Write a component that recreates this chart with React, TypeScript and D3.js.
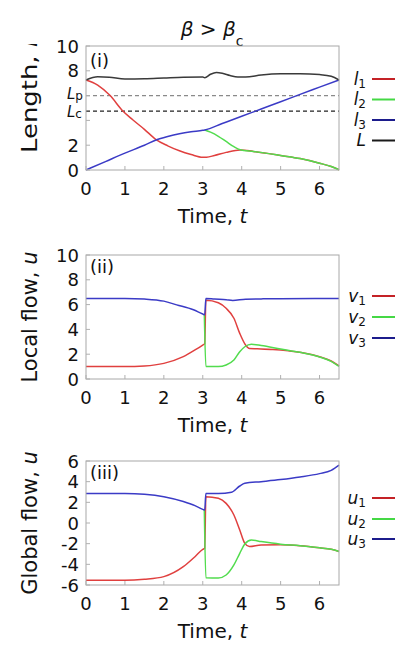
import React from "react";
import * as d3 from "d3";

// ---------- Panel (i): lengths ----------
const T_BIG_L = [0, 0.3, 0.6, 1.0, 1.5, 2.0, 2.5, 3.0, 3.05, 3.2, 3.35, 3.5, 3.7, 3.9, 4.1, 4.5, 5.0, 5.5, 6.0, 6.3, 6.5];
const BIG_L = [7.26, 7.52, 7.48, 7.34, 7.36, 7.42, 7.48, 7.5, 7.44, 7.72, 7.86, 7.8, 7.62, 7.5, 7.5, 7.66, 7.76, 7.77, 7.7, 7.56, 7.26];

const T_L1 = [0, 0.3, 0.62, 0.94, 1.2, 1.5, 1.8, 2.1, 2.4, 2.7, 3.0, 3.1, 3.3, 3.6, 3.96, 4.3, 4.7, 5.0, 5.5, 6.0, 6.3, 6.5];
const L1 = [7.26, 6.85, 6.0, 4.78, 4.05, 3.28, 2.45, 1.95, 1.55, 1.25, 1.03, 1.03, 1.17, 1.42, 1.62, 1.5, 1.32, 1.17, 0.92, 0.55, 0.28, 0.02];

const T_L2 = [3.05, 3.2, 3.4, 3.6, 3.8, 3.96, 4.3, 4.7, 5.0, 5.5, 6.0, 6.3, 6.5];
const L2 = [3.23, 3.05, 2.72, 2.3, 1.88, 1.64, 1.5, 1.32, 1.17, 0.92, 0.55, 0.28, 0.02];

const T_L3 = [0, 0.5, 1.0, 1.5, 1.8, 2.1, 2.4, 2.7, 3.0, 3.05, 3.5, 4.0, 4.5, 5.0, 5.5, 6.0, 6.5];
const L3 = [0, 0.68, 1.36, 2.0, 2.42, 2.7, 2.92, 3.08, 3.2, 3.23, 3.75, 4.33, 4.92, 5.5, 6.1, 6.68, 7.26];

const L_P = 6.0;
const L_C = 4.75;

// ---------- Panel (ii): local flow ----------
const T_V1 = [0, 1.0, 1.5, 2.0, 2.5, 2.8, 3.0, 3.05, 3.08, 3.4, 3.6, 3.8, 3.95, 4.1, 4.2, 4.4, 4.8, 5.2, 5.6, 6.0, 6.3, 6.5];
const V1 = [1.0, 1.0, 1.05, 1.26, 1.8, 2.34, 2.74, 2.85, 6.35, 6.15, 5.7, 4.9, 3.68, 2.74, 2.45, 2.43, 2.38, 2.27, 2.1, 1.8, 1.45, 1.05];

const T_V2 = [3.04, 3.08, 3.4, 3.6, 3.8, 3.95, 4.08, 4.25, 4.5, 5.0, 5.5, 6.0, 6.3, 6.5];
const V2 = [5.22, 1.0, 1.0, 1.13, 1.53, 2.2, 2.6, 2.8, 2.7, 2.42, 2.15, 1.78, 1.42, 1.02];

const T_V3 = [0, 1.0, 1.5, 2.0, 2.33, 2.76, 3.0, 3.05, 3.08, 3.3, 3.6, 3.77, 4.1, 4.5, 5.0, 6.5];
const V3 = [6.5, 6.5, 6.45, 6.28, 5.98, 5.58, 5.24, 5.18, 6.5, 6.45, 6.4, 6.34, 6.44, 6.46, 6.48, 6.5];

// ---------- Panel (iii): global flow ----------
const T_U1 = [0, 1.0, 1.5, 2.0, 2.5, 2.8, 3.0, 3.05, 3.08, 3.4, 3.6, 3.8, 3.95, 4.08, 4.2, 4.5, 5.0, 5.5, 6.0, 6.3, 6.5];
const U1 = [-5.55, -5.55, -5.45, -5.19, -4.23, -3.26, -2.55, -2.45, 2.55, 2.39, 1.9, 0.77, -0.68, -1.97, -2.28, -2.12, -2.1, -2.2, -2.4, -2.55, -2.75];

const T_U2 = [3.04, 3.08, 3.4, 3.6, 3.8, 3.95, 4.08, 4.25, 4.5, 5.0, 5.5, 6.0, 6.3, 6.5];
const U2 = [1.25, -5.3, -5.32, -5.03, -4.06, -2.94, -2.03, -1.65, -1.8, -2.05, -2.2, -2.4, -2.55, -2.75];

const T_U3 = [0, 1.0, 1.5, 2.0, 2.5, 2.8, 3.0, 3.05, 3.08, 3.4, 3.74, 3.95, 4.08, 4.5, 5.0, 5.5, 6.0, 6.3, 6.5];
const U3 = [2.85, 2.85, 2.78, 2.55, 2.08, 1.68, 1.32, 1.25, 2.85, 2.85, 2.97, 3.58, 3.84, 4.0, 4.2, 4.45, 4.78, 5.1, 5.6];

// ---------- Axes ----------
const X_TICKS = [0, 1, 2, 3, 4, 5, 6];
const Y1_TICKS = [0, 2, 4, 6, 8, 10];
const Y1_LABELS = [0, 2, 8, 10];
const Y2_TICKS = [0, 2, 4, 6, 8, 10];
const Y3_TICKS = [-6, -4, -2, 0, 2, 4, 6];

const RED = "#e0403f";
const GREEN = "#52dc4e";
const BLUE = "#3b3bc6";
const BLACK = "#3a3a3a";
const LEG_RED = "#c42226";
const LEG_GREEN = "#45d845";
const LEG_BLUE = "#1c1c8c";
const LEG_BLACK = "#1a1a1a";

const FONT = "'DejaVu Sans', sans-serif";

const X0 = 86;
const X1 = 339;
const PH = 124;

type Series = { t: number[]; v: number[]; color: string; legColor: string; sym: string; sub: string };

function zip(t: number[], v: number[]): [number, number][] {
  return t.map((tt, i) => [tt, v[i]] as [number, number]);
}

function Panel(props: {
  top: number;
  domain: [number, number];
  ticks: number[];
  tickLabels: number[];
  series: Series[];
  legendY: number[];
  tag: string;
  tagDy: number;
  yTitle: string;
  yTitleItalic: string;
  yTitleCenter: number;
  extra?: (y: d3.ScaleLinear<number, number>) => React.ReactNode;
  clipTop?: number;
  yTitleLength?: number;
  id: string;
}) {
  const { top, domain, ticks, tickLabels, series, tag, yTitle, yTitleItalic } = props;
  const bottom = top + PH;
  const x = d3.scaleLinear().domain([0, 6.5]).range([X0, X1]);
  const y = d3.scaleLinear().domain(domain).range([bottom, top]);
  const line = d3
    .line<[number, number]>()
    .x((d) => x(d[0]))
    .y((d) => y(d[1]))
    .curve(d3.curveMonotoneX);
  return (
    <g>
      {props.extra && props.extra(y)}
      {series.map((s, i) => (
        <path key={i} d={line(zip(s.t, s.v)) || ""} fill="none" stroke={s.color} strokeWidth={1.5} strokeLinejoin="round" />
      ))}
      <rect x={X0} y={top} width={X1 - X0} height={PH} fill="none" stroke="#a8a8a8" strokeWidth={1} />
      {X_TICKS.map((t) => (
        <line key={"xt" + t} x1={x(t)} x2={x(t)} y1={bottom} y2={bottom - 4} stroke="#b0b0b0" />
      ))}
      {ticks.map((t) => (
        <line key={"yt" + t} x1={X0} x2={X0 + 4} y1={y(t)} y2={y(t)} stroke="#b0b0b0" />
      ))}
      {X_TICKS.map((t) => (
        <text key={"xl" + t} x={x(t)} y={bottom + 25} textAnchor="middle" fontSize={18} fontFamily={FONT} fill="#111">
          {t}
        </text>
      ))}
      {tickLabels.map((t) => (
        <text key={"yl" + t} x={79} y={y(t) + 6.5} textAnchor="end" fontSize={18} fontFamily={FONT} fill="#111">
          {t < 0 ? "-" + Math.abs(t) : t}
        </text>
      ))}
      <text x={90} y={top + props.tagDy} fontSize={18} fontFamily={FONT} fill="#111">
        {tag}
      </text>
      <text x={(X0 + X1) / 2} y={bottom + 53} textAnchor="middle" fontSize={20} fontFamily={FONT} fill="#111">
        Time, <tspan fontStyle="italic">t</tspan>
      </text>
      {props.clipTop !== undefined && (
        <defs>
          <clipPath id={props.id}>
            <rect x={0} y={props.clipTop} width={80} height={200} />
          </clipPath>
        </defs>
      )}
      <g clipPath={props.clipTop !== undefined ? `url(#${props.id})` : undefined}>
        <text
          transform={`translate(37,${props.yTitleCenter}) rotate(-90)`}
          textAnchor={props.yTitleLength ? "start" : "middle"}
          fontSize={21}
          fontFamily={FONT}
          fill="#111"
          textLength={props.yTitleLength}
          lengthAdjust={props.yTitleLength ? "spacingAndGlyphs" : undefined}
        >
          {yTitle}
          <tspan fontStyle="italic">{yTitleItalic}</tspan>
        </text>
      </g>
      {series.map((s, i) => (
        <g key={"lg" + i}>
          <text x={366} y={props.legendY[i] + 5.5} textAnchor="end" fontFamily={FONT} fill="#111">
            <tspan fontSize={17} fontStyle="italic">{s.sym}</tspan>
            {s.sub && (
              <tspan fontSize={12} dy={3}>
                {s.sub}
              </tspan>
            )}
          </text>
          <line x1={372} x2={395} y1={props.legendY[i]} y2={props.legendY[i]} stroke={s.legColor} strokeWidth={2} />
        </g>
      ))}
    </g>
  );
}

export default function App() {
  const p1: Series[] = [
    { t: T_L1, v: L1, color: RED, legColor: LEG_RED, sym: "l", sub: "1" },
    { t: T_L2, v: L2, color: GREEN, legColor: LEG_GREEN, sym: "l", sub: "2" },
    { t: T_L3, v: L3, color: BLUE, legColor: LEG_BLUE, sym: "l", sub: "3" },
    { t: T_BIG_L, v: BIG_L, color: BLACK, legColor: LEG_BLACK, sym: "L", sub: "" },
  ];
  const p2: Series[] = [
    { t: T_V1, v: V1, color: RED, legColor: LEG_RED, sym: "v", sub: "1" },
    { t: T_V2, v: V2, color: GREEN, legColor: LEG_GREEN, sym: "v", sub: "2" },
    { t: T_V3, v: V3, color: BLUE, legColor: LEG_BLUE, sym: "v", sub: "3" },
  ];
  const p3: Series[] = [
    { t: T_U1, v: U1, color: RED, legColor: LEG_RED, sym: "u", sub: "1" },
    { t: T_U2, v: U2, color: GREEN, legColor: LEG_GREEN, sym: "u", sub: "2" },
    { t: T_U3, v: U3, color: BLUE, legColor: LEG_BLUE, sym: "u", sub: "3" },
  ];
  const dashed = (y: d3.ScaleLinear<number, number>) => (
    <g>
      <line x1={X0} x2={X1} y1={y(L_P)} y2={y(L_P)} stroke="#8a8a8a" strokeWidth={1.3} strokeDasharray="4,3" />
      <line x1={X0} x2={X1} y1={y(L_C)} y2={y(L_C)} stroke="#222" strokeWidth={1.3} strokeDasharray="4,3" />
      <text x={67} y={y(L_P) + 3.5} fontFamily={FONT} fill="#111">
        <tspan fontSize={15} fontStyle="italic">L</tspan>
        <tspan fontSize={12} dy={1}>p</tspan>
      </text>
      <text x={67} y={y(L_C) + 6} fontFamily={FONT} fill="#111">
        <tspan fontSize={15} fontStyle="italic">L</tspan>
        <tspan fontSize={12} dy={1}>c</tspan>
      </text>
    </g>
  );
  return (
    <svg width={397} height={645} style={{ position: "absolute", left: 0, top: 0, background: "#fff" }}>
      <rect width={397} height={645} fill="#fff" />
      <text x={212} y={36} textAnchor="middle" fontFamily={FONT} fill="#111">
        <tspan fontSize={20} fontStyle="italic">β</tspan>
        <tspan fontSize={20}> &gt; </tspan>
        <tspan fontSize={20} fontStyle="italic">β</tspan>
        <tspan fontSize={14} dy={10}>c</tspan>
      </text>
      <Panel
        id="c1"
        top={46}
        domain={[0, 10]}
        ticks={Y1_TICKS}
        tickLabels={Y1_LABELS}
        series={p1}
        legendY={[79, 99.5, 120, 140.5]}
        tag="(i)"
        tagDy={21}
        yTitle="Length, "
        yTitleItalic="l"
        yTitleCenter={153}
        yTitleLength={113}
        clipTop={44}
        extra={dashed}
      />
      <Panel
        id="c2"
        top={255}
        domain={[0, 10]}
        ticks={Y2_TICKS}
        tickLabels={Y2_TICKS}
        series={p2}
        legendY={[296, 317, 338]}
        tag="(ii)"
        tagDy={18}
        yTitle="Local flow, "
        yTitleItalic="u"
        yTitleCenter={317}
      />
      <Panel
        id="c3"
        top={461}
        domain={[-6, 6]}
        ticks={Y3_TICKS}
        tickLabels={Y3_TICKS}
        series={p3}
        legendY={[498, 519, 539]}
        tag="(iii)"
        tagDy={18}
        yTitle="Global flow, "
        yTitleItalic="u"
        yTitleCenter={523}
      />
    </svg>
  );
}
